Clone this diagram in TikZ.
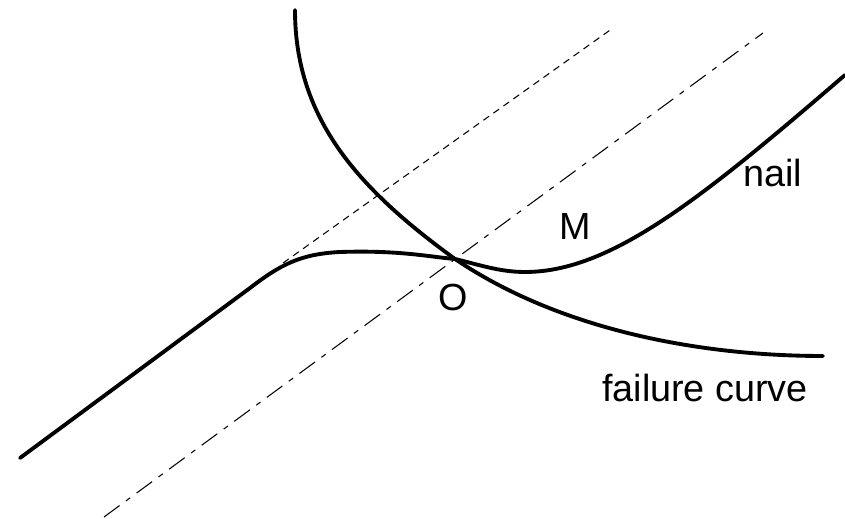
\documentclass[tikz,border=0pt]{standalone}
\usepackage{fontspec}
\setmainfont{Liberation Sans}
\usetikzlibrary{positioning}

\begin{document}
\begin{tikzpicture}[
    x=0.02cm, y=-0.02cm,
    curve/.style={line width=2.2pt, line cap=round},
    guide/.style={line width=0.6pt, dash pattern=on 4pt off 3pt},
    guidedot/.style={line width=0.6pt, dash pattern=on 11pt off 4.5pt on 3pt off 4.5pt},
    label/.style={font=\fontsize{21.5}{26}\selectfont, inner sep=0pt},
]

    \useasboundingbox (0,0) rectangle (845,519);

    % guide lines
    \draw[guide] (283,263) -- (613,28);
    \draw[guidedot] (104,517) -- (763,33);

    % nail and failure curve
    \coordinate (O) at (455,259);
    \draw[curve] (20,458) -- (250,288)
        .. controls (280,265) and (300,254) .. (340,252)
        .. controls (400,250) and (430,257) .. (O)
        .. controls (480,265) and (500,272) .. (525,272)
        .. controls (610,272) and (700,200) .. (845,75);
    \draw[curve] (295,10) .. controls (295,120) and (360,190) .. (O)
        .. controls (560,330) and (700,356) .. (823,356);

    \node[label] (olabel) at (453,298) {O};
    \node[label] (mlabel) at (575,227) {M};
    \node[label] (nail) at (773,173) {nail};
    \node[label] (failure) at (705,388) {failure curve};

\end{tikzpicture}
\end{document}
